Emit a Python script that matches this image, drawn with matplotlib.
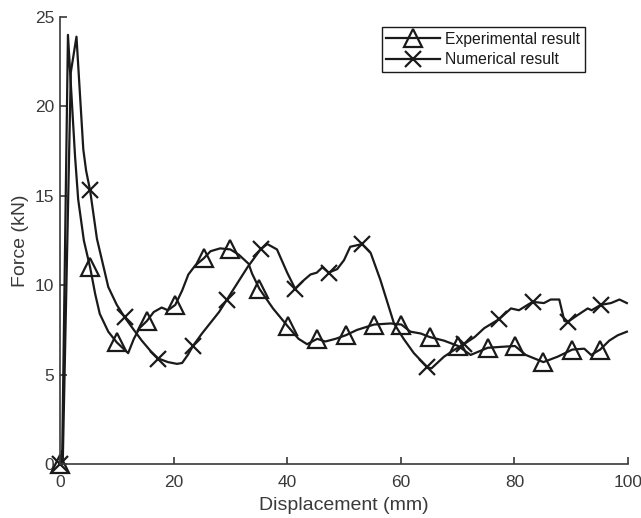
import numpy as np
import matplotlib
matplotlib.use("Agg")
import matplotlib.pyplot as plt
from matplotlib.lines import Line2D

plt.rcParams['font.family'] = ['Liberation Sans', 'DejaVu Sans']

# experimental curve (displacement mm, force kN)
exp_x = [0, 0.4, 1.4, 2.65, 3.2, 4.2, 5.3, 6.2, 7.0, 8.5, 10.0, 11.0, 12.0, 13.0,
         14.0, 15.3, 16.5, 17.9, 19.0, 20.3, 21.5, 22.6, 23.8, 25.3, 26.5, 28.2,
         30.0, 31.5, 33.2, 33.8, 35.1, 37.5, 40.1, 42.0, 43.5, 45.3, 46.7, 48.5,
         50.3, 52.3, 55.3, 58.2, 60.1, 61.7, 63.5, 65.1, 67.6, 70.1, 72.3, 75.3,
         77.6, 80.1, 82.0, 85.1, 87.6, 90.2, 92.3, 93.5, 95.1, 96.7, 98.2, 99.8]
exp_y = [0, 0.8, 24.0, 17.2, 14.8, 12.5, 11.0, 9.5, 8.4, 7.4, 6.8, 6.5, 6.2, 7.0,
         7.6, 8.0, 8.5, 8.75, 8.6, 8.9, 9.7, 10.6, 11.1, 11.5, 11.9, 12.06,
         12.0, 11.7, 11.2, 10.66, 9.8, 8.7, 7.7, 7.0, 6.7, 7.0, 6.85, 7.0,
         7.2, 7.5, 7.8, 7.86, 7.8, 7.4, 7.3, 7.1, 6.9, 6.6, 6.1, 6.5,
         6.55, 6.6, 6.1, 5.7, 6.0, 6.4, 6.45, 6.1, 6.4, 6.9, 7.2, 7.4]
exp_marks = [0, 5.3, 10.0, 15.3, 20.3, 25.3, 30.0, 35.1, 40.1, 45.3, 50.3, 55.3,
             60.1, 65.1, 70.1, 75.3, 80.1, 85.1, 90.2, 95.1]

# numerical curve
num_x = [0, 0.5, 1.9, 2.9, 4.1, 4.6, 5.3, 6.5, 8.5, 10.0, 11.4, 13.0, 14.4, 16.0,
         17.3, 19.0, 20.6, 21.5, 22.5, 23.4, 25.0, 26.5, 28.0, 29.4, 31.0, 33.0,
         35.3, 36.5, 38.2, 40.0, 41.4, 43.0, 44.1, 45.2, 46.2, 47.3, 48.8, 50.0,
         51.1, 53.2, 54.7, 56.4, 58.8, 60.5, 62.3, 64.7, 65.4, 67.6, 69.5, 71.1,
         73.0, 74.7, 77.3, 79.4, 80.8, 83.2, 85.2, 86.4, 87.9, 88.8, 89.4, 91.0,
         92.9, 93.6, 95.2, 97.0, 98.5, 99.8]
num_y = [0, 0.3, 21.9, 23.9, 17.6, 16.4, 15.3, 12.6, 9.9, 8.9, 8.2, 7.5, 6.9, 6.3,
         5.9, 5.7, 5.6, 5.65, 6.1, 6.6, 7.3, 7.9, 8.5, 9.2, 10.0, 11.0,
         12.0, 12.3, 12.0, 10.7, 9.8, 10.3, 10.6, 10.7, 11.0, 10.7, 10.9, 11.4,
         12.15, 12.3, 11.8, 10.3, 7.86, 7.0, 6.2, 5.4, 5.35, 6.0, 6.4, 6.7,
         7.1, 7.6, 8.1, 8.7, 8.6, 9.07, 9.0, 9.2, 9.2, 8.0, 7.95, 8.3,
         8.7, 8.6, 8.9, 9.0, 9.2, 9.0]
num_marks = [0, 5.3, 11.4, 17.3, 23.4, 29.4, 35.3, 41.4, 47.3, 53.2, 64.7, 71.1,
             77.3, 83.2, 89.4, 95.2]

ink = '#1a1a1a'
grey = '#3a3a3a'

fig = plt.figure(figsize=(6.41, 5.18), dpi=100)
ax = fig.add_axes([60/641, 1-464/518, 568/641, 447/518])

exp_every = [i for i, v in enumerate(exp_x) if v in exp_marks]
num_every = [i for i, v in enumerate(num_x) if v in num_marks]

ax.plot(exp_x, exp_y, color=ink, lw=1.6, marker='^', markersize=13,
        markerfacecolor='none', markeredgewidth=1.6, markevery=exp_every, clip_on=False)
ax.plot(num_x, num_y, color=ink, lw=1.6, marker='x', markersize=11,
        markeredgewidth=1.6, markevery=num_every, clip_on=False)

ax.set_xlim(0, 100)
ax.set_ylim(0, 25)
ax.set_xticks(np.arange(0, 101, 20))
ax.set_yticks(np.arange(0, 26, 5))
for s in ['top', 'right']:
    ax.spines[s].set_visible(False)
for s in ['left', 'bottom']:
    ax.spines[s].set_color(grey)
    ax.spines[s].set_linewidth(1.2)
ax.tick_params(direction='in', length=5, width=1.2, color=grey, labelcolor=grey,
               labelsize=12.5)
ax.tick_params(axis='x', pad=8)
ax.tick_params(axis='y', pad=4)
ax.set_xlabel('Displacement (mm)', fontsize=14, color=grey, labelpad=5)
ax.set_ylabel('Force (kN)', fontsize=14, color=grey, labelpad=4)

handles = [Line2D([], [], color=ink, lw=1.6, marker='^', markersize=13,
                  markerfacecolor='none', markeredgewidth=1.6),
           Line2D([], [], color=ink, lw=1.6, marker='x', markersize=11,
                  markeredgewidth=1.6)]
leg = ax.legend(handles, ['Experimental result', 'Numerical result'],
                loc='upper right', bbox_to_anchor=(0.924, 0.978), fontsize=11.3,
                fancybox=False, edgecolor=ink, framealpha=1, handlelength=3.4,
                borderpad=0.3, labelspacing=0.35, handletextpad=0.35,
                borderaxespad=0)
leg.get_frame().set_linewidth(1.0)
for t in leg.get_texts():
    t.set_color(ink)

fig.savefig('out.png', dpi=100)
